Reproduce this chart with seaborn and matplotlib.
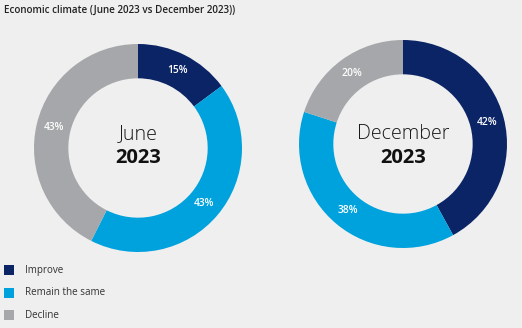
import matplotlib
matplotlib.use("Agg")
import matplotlib.pyplot as plt
import seaborn as sns
from matplotlib.patches import Rectangle

sns.set_theme(style="white")
plt.rcParams['font.family'] = ['Open Sans', 'DejaVu Sans']

categories = ["Improve", "Remain the same", "Decline"]
june_values = [15, 43, 43]
december_values = [42, 38, 20]
period_names = ["June", "December"]
period_years = ["2023", "2023"]
title = "Economic climate (June 2023 vs December 2023))"

colors = ["#0b2466", "#00a2dd", "#a5a7aa"]
bg = "#efefef"

W, H = 522, 328
fig = plt.figure(figsize=(W / 100, H / 100), dpi=100, facecolor=bg)

def px_axes(cx, cy, r):
    return fig.add_axes([(cx - r) / W, (H - cy - r) / H, 2 * r / W, 2 * r / H])

donuts = [(138, 148, 104, june_values), (403, 144, 104, december_values)]
for (cx, cy, r, vals), name, year in zip(donuts, period_names, period_years):
    ax = px_axes(cx, cy, r)
    ax.set_facecolor(bg)
    ax.pie(vals, colors=colors, startangle=90, counterclock=False,
           radius=1.0, wedgeprops=dict(width=0.33, linewidth=0),
           autopct=lambda p: f"{p:.0f}%", pctdistance=0.835,
           textprops=dict(color="white", fontsize=7.4, fontweight="semibold"))
    ax.set_xlim(-1, 1)
    ax.set_ylim(-1, 1)
    ax.set_aspect("equal")
    ax.axis("off")
    ax.text(0, (cy - 134) / r, name, ha="center", va="center",
            fontsize=14.2, fontweight="light", color="#1a1a1a")
    ax.text(0, (cy - 158) / r, year, ha="center", va="center",
            fontsize=14.5, fontweight="bold", color="#111111")

fig.text(4 / W, 1 - 10 / H, title, ha="left", va="center",
         fontsize=7.1, fontweight="semibold", color="#222222")

for i, (cat, col) in enumerate(zip(categories, colors)):
    y = 270 + i * 22.5
    fig.patches.append(Rectangle((4 / W, 1 - (y + 5) / H), 10 / W, 10 / H,
                                 transform=fig.transFigure, facecolor=col,
                                 edgecolor="none"))
    fig.text(25 / W, 1 - y / H, cat, ha="left", va="center",
             fontsize=7.1, color="#333333")

fig.savefig("out.png", dpi=100, facecolor=bg)
